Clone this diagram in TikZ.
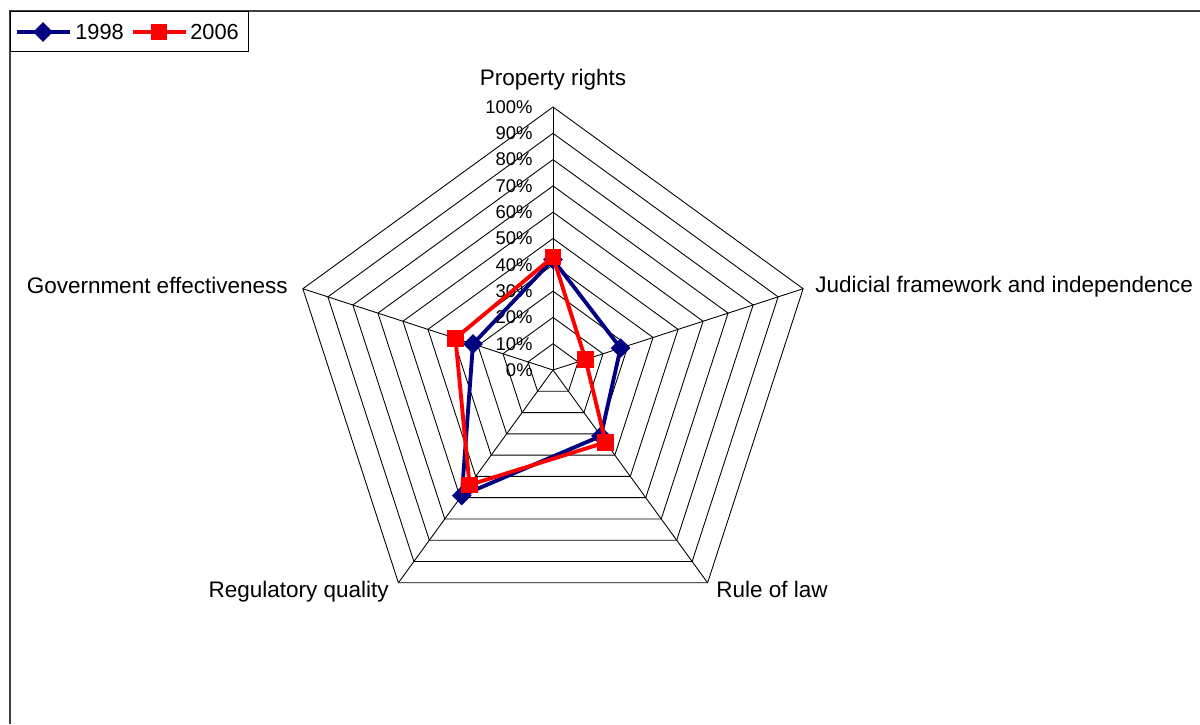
\documentclass[tikz,border=0pt]{standalone}
\usepackage{fontspec}
\setmainfont{Liberation Sans}
\usetikzlibrary{shapes.geometric}
\definecolor{navyline}{RGB}{0,0,128}
\definecolor{redline}{RGB}{255,0,0}
\newcommand{\Rad}{5.26}

\begin{document}
\begin{tikzpicture}
 	\tikzstyle{every node}+=[inner sep=0pt]
 	\tikzstyle{grid}=[black, line width=0.5pt]
 	\tikzstyle{axislabel}=[font=\fontsize{12.8}{15}\selectfont]
 	\tikzstyle{legendlabel}=[font=\fontsize{12.4}{15}\selectfont, anchor=west]
 	\tikzstyle{ticklabel}=[font=\fontsize{10.5}{12}\selectfont, anchor=east]
 	\tikzstyle{line98}=[navyline, line width=2.2pt, line join=round]
 	\tikzstyle{line06}=[redline, line width=2.2pt, line join=round]
 	\tikzstyle{dia98}=[diamond, fill=navyline, minimum width=0.4cm, minimum height=0.4cm]
 	\tikzstyle{sq06}=[rectangle, fill=redline, minimum size=0.33cm]
 	\useasboundingbox (0,0) rectangle (24,-14.48);
 	% chart frame
 	\draw [black!75, line width=1.1pt] (0.2,-14.48) -- (0.2,-0.22) -- (24,-0.22);
 	% legend
 	\node [draw=black, line width=0.5pt, anchor=north west, minimum width=4.76cm, minimum height=0.8cm] (legend) at (0.2,-0.22) {};
 	\coordinate (l98a) at (0.34,-0.64);
 	\coordinate (l98b) at (1.40,-0.64);
 	\draw [line98] (l98a) -- (l98b);
 	\node [dia98] (l98) at (0.86,-0.64) {};
 	\node [legendlabel] (t98) at (1.5,-0.64) {1998};
 	\coordinate (l06a) at (2.66,-0.64);
 	\coordinate (l06b) at (3.72,-0.64);
 	\draw [line06] (l06a) -- (l06b);
 	\node [sq06] (l06) at (3.18,-0.64) {};
 	\node [legendlabel] (t06) at (3.8,-0.64) {2006};
 	\begin{scope}[shift={(11.06,-7.4)}]
 	% grid
 	\foreach \k in {1,...,10}
 		\draw [grid] (90:{\k*\Rad/10}) -- (18:{\k*\Rad/10}) -- (-54:{\k*\Rad/10}) -- (-126:{\k*\Rad/10}) -- (162:{\k*\Rad/10}) -- cycle;
 	\foreach \a in {90,18,-54,-126,162}
 		\draw [grid] (0,0) -- (\a:\Rad);
 	\foreach \k [evaluate=\k as \pc using int(10*\k)] in {0,...,10}
 		\node [ticklabel] (tick\k) at (-0.4,{\k*\Rad/10}) {\pc\%};
 	% axis labels
 	\node [axislabel, anchor=base] (prop) at (0,5.7) {Property rights};
 	\node [axislabel, anchor=base west] (judic) at (5.24,1.56) {Judicial framework and independence};
 	\node [axislabel, anchor=base west] (law) at (3.26,-4.54) {Rule of law};
 	\node [axislabel, anchor=base east] (regul) at (-3.28,-4.54) {Regulatory quality};
 	\node [axislabel, anchor=base east] (govt) at (-5.3,1.54) {Government effectiveness};
 	% 1998
 	\foreach \a/\v/\n in {90/0.42/pr, 18/0.27/jf, -54/0.31/rl, -126/0.59/rq, 162/0.32/ge}
 		\coordinate (\n98) at (\a:{\v*\Rad});
 	\draw [line98] (pr98) -- (jf98) -- (rl98) -- (rq98) -- (ge98) -- cycle;
 	\foreach \n in {pr,jf,rl,rq,ge}
 		\node [dia98] (m\n98) at (\n98) {};
 	% 2006
 	\foreach \a/\v/\n in {90/0.43/pr, 18/0.13/jf, -54/0.34/rl, -126/0.54/rq, 162/0.39/ge}
 		\coordinate (\n06) at (\a:{\v*\Rad});
 	\draw [line06] (pr06) -- (jf06) -- (rl06) -- (rq06) -- (ge06) -- cycle;
 	\foreach \n in {pr,jf,rl,rq,ge}
 		\node [sq06] (m\n06) at (\n06) {};
 	\end{scope}
\end{tikzpicture}
\end{document}
